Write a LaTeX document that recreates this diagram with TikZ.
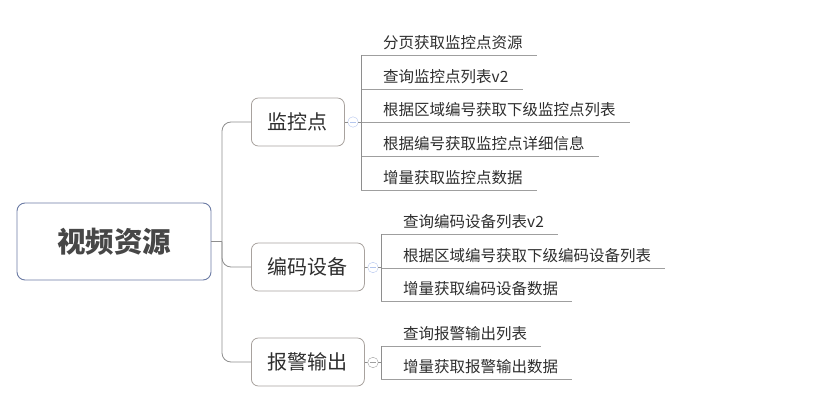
\documentclass[tikz,border=0pt]{standalone}
\usepackage{fontspec}
\setmainfont{Noto Sans CJK SC}
\usetikzlibrary{positioning}
\definecolor{rootline}{HTML}{6B7BA4}
\definecolor{boxline}{HTML}{A8A29E}
\definecolor{wirecol}{HTML}{8E8E8E}
\definecolor{txt}{HTML}{2E2E2E}
\definecolor{foldblue}{HTML}{B4C6EE}
\definecolor{foldgrey}{HTML}{A0A0A0}
\tikzset{
  rootbox/.style={draw=rootline, line width=0.9pt, rounded corners=8pt, minimum width=194pt,
    minimum height=77pt, text=black!72, font=\fontsize{28.5}{30}\selectfont\bfseries},
  topicbox/.style={draw=boxline, line width=0.8pt, rounded corners=7pt, anchor=west,
    minimum height=48pt, inner xsep=16.5pt, text=txt, font=\fontsize{20}{22}\selectfont},
  leaf/.style={anchor=south west, inner xsep=0pt, inner ysep=6pt, text depth=0pt, text=txt,
    font=\fontsize{15.5}{17}\selectfont,
    execute at begin node=\hspace{22pt}, execute at end node=\hspace{14pt}},
  fold/.style={circle, draw=#1, fill=white, minimum size=10.5pt, inner sep=0pt,
    path picture={\draw[#1] ([xshift=-2.6pt]path picture bounding box.center)
      -- ([xshift=2.6pt]path picture bounding box.center);}},
  fold/.default=foldblue,
  wire/.style={draw=wirecol, line width=0.8pt},
  underline/.style={draw=wirecol!85, line width=0.8pt}
}
\begin{document}
\begin{tikzpicture}[x=1pt,y=-1pt]
  \useasboundingbox (0,0) rectangle (827,404);
  % root and topics
  \node[rootbox] (root) at (114,241.5) {视频资源};
  \node[topicbox] (jk) at (251,122) {监控点};
  \node[topicbox] (bm) at (251,267) {编码设备};
  \node[topicbox] (bj) at (251,362) {报警输出};
  \coordinate (hub) at (222,241.5);
  \draw[wire] (root) -- (hub);
  \draw[wire,rounded corners=9pt] (jk.west) -| (hub) |- (bj.west);
  \draw[wire,rounded corners=9pt] (hub) |- (bm.west);
  % leaves
  \foreach \n/\y/\t in {a/55/分页获取监控点资源, b/89/查询监控点列表v2,
      c/122/根据区域编号获取下级监控点列表, d/156/根据编号获取监控点详细信息,
      e/190/增量获取监控点数据}{
    \node[leaf] (jk\n) at (361,\y) {\t};
    \draw[underline] (jk\n.south west) -- (jk\n.south east);
  }
  \foreach \n/\y/\t in {a/234/查询编码设备列表v2, b/268/根据区域编号获取下级编码设备列表,
      c/301/增量获取编码设备数据}{
    \node[leaf] (bm\n) at (381,\y) {\t};
    \draw[underline] (bm\n.south west) -- (bm\n.south east);
  }
  \foreach \n/\y/\t in {a/346/查询报警输出列表, b/379/增量获取报警输出数据}{
    \node[leaf] (bj\n) at (381,\y) {\t};
    \draw[underline] (bj\n.south west) -- (bj\n.south east);
  }
  \draw[wire] (jka.south west) -- (jke.south west);
  \draw[wire] (bma.south west) -- (bmc.south west);
  \draw[wire] (bja.south west) -- (bjb.south west);
  % fold buttons
  \node[fold] (jkf) at (353,122) {};
  \node[fold] (bmf) at (373,267.5) {};
  \node[fold=foldgrey] (bjf) at (373,362.5) {};
  \draw[wire] (jk) -- (jkf);
  \draw[wire] (bm) -- (bmf);
  \draw[wire] (bj) -- (bjf);
  \draw[wire] (jkf) -- (jkf -| jka.south west);
  \draw[wire] (bmf) -- (bmf -| bma.south west);
  \draw[wire] (bjf) -- (bjf -| bja.south west);
\end{tikzpicture}
\end{document}
